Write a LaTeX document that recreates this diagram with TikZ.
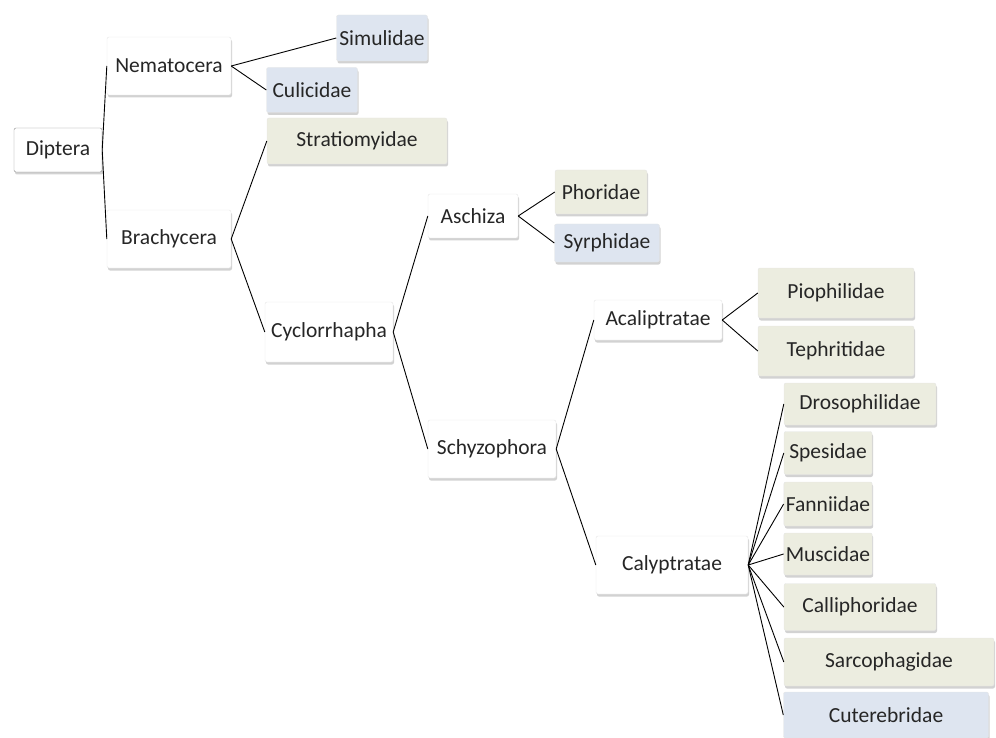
\documentclass[tikz,border=0pt]{standalone}
\usepackage{fontspec}
\setmainfont{Carlito}
\usetikzlibrary{positioning,shadows}
\definecolor{famblue}{RGB}{222,229,240}
\definecolor{famolive}{RGB}{236,237,224}

\begin{document}
\begin{tikzpicture}[x=1pt,y=-1pt,
	every node/.style={font=\fontsize{21.5}{24}\selectfont,text=black!85},
	taxon/.style={rectangle,rounded corners=2pt,draw=black!10,fill=white,
		drop shadow={shadow xshift=1pt,shadow yshift=-2.5pt,fill=black!35},
		inner sep=2pt},
	bluefam/.style={taxon,fill=famblue},
	olivefam/.style={taxon,fill=famolive},
	every edge/.style={draw,line width=0.9pt}]
	\useasboundingbox (0,0) rectangle (996,738);

		% order and suborders
		\node[taxon,minimum width=88,minimum height=44,draw=black!45] (dip) at (58,150) {Diptera};
		\node[taxon,minimum width=124,minimum height=58] (nem) at (169,66) {Nematocera};
		\node[taxon,minimum width=124,minimum height=58] (bra) at (169,239) {Brachycera};

		\node[bluefam,minimum width=91,minimum height=46] (sim) at (382,38) {Simulidae};
		\node[bluefam,minimum width=91,minimum height=45] (cul) at (312,90) {Culicidae};
		\node[olivefam,minimum width=180,minimum height=46] (str) at (357,141) {Stratiomyidae};

		% Cyclorrhapha
		\node[taxon,minimum width=128,minimum height=60] (cyc) at (329,332) {Cyclorrhapha};
		\node[taxon,minimum width=90,minimum height=44] (asc) at (473,216) {Aschiza};
		\node[olivefam,minimum width=92,minimum height=44] (pho) at (601,192) {Phoridae};
		\node[bluefam,minimum width=105,minimum height=38] (syr) at (607,243) {Syrphidae};

		\node[taxon,minimum width=128,minimum height=58] (sch) at (492,449) {Schyzophora};
		\node[taxon,minimum width=128,minimum height=40] (aca) at (658,320) {Acaliptratae};
		\node[olivefam,minimum width=156,minimum height=50] (pio) at (836,293) {Piophilidae};
		\node[olivefam,minimum width=156,minimum height=50] (tep) at (836,351) {Tephritidae};

		% Calyptratae families
		\node[taxon,minimum width=152,minimum height=58] (cal) at (672,565) {Calyptratae};
		\node[olivefam,minimum width=152,minimum height=42] (dro) at (860,404) {Drosophilidae};
		\node[olivefam,minimum width=88,minimum height=43] (spe) at (828,453) {Spesidae};
		\node[olivefam,minimum width=88,minimum height=44] (fan) at (828,504) {Fanniidae};
		\node[olivefam,minimum width=88,minimum height=42] (mus) at (828,554) {Muscidae};
		\node[olivefam,minimum width=152,minimum height=47] (cph) at (860,607) {Calliphoridae};
		\node[olivefam,minimum width=210,minimum height=48] (sar) at (889,662) {Sarcophagidae};
		\node[bluefam,minimum width=205,minimum height=46] (cut) at (886,715) {Cuterebridae};

		\path
		(dip.east) edge (nem.west)
		(dip.east) edge (bra.west)

		(nem.east) edge (sim.west)
		(nem.east) edge (cul.west)

		(bra.east) edge (str.west)
		(bra.east) edge (cyc.west)

		(cyc.east) edge (asc.west)
		(cyc.east) edge (sch.west)

		(asc.east) edge (pho.west)
		(asc.east) edge (syr.west)

		(sch.east) edge (aca.west)
		(sch.east) edge (cal.west)

		(aca.east) edge (pio.west)
		(aca.east) edge (tep.west)

		(cal.east) edge (dro.west)
		(cal.east) edge (spe.west)
		(cal.east) edge (fan.west)
		(cal.east) edge (mus.west)
		(cal.east) edge (cph.west)
		(cal.east) edge (sar.west)
		(cal.east) edge (cut.west)
		;
	\end{tikzpicture}
\end{document}
